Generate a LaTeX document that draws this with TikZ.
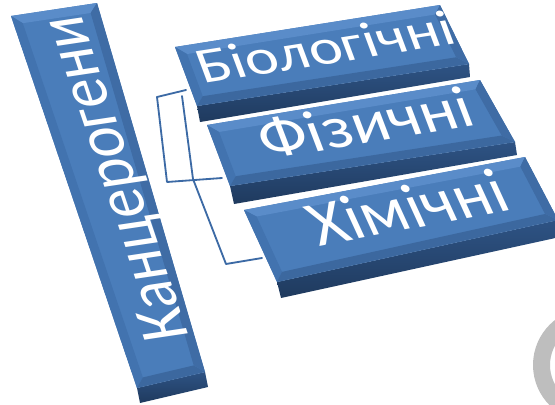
\documentclass[tikz,border=0pt]{standalone}
\usepackage{fontspec}
\setmainfont{Carlito}
\usetikzlibrary{calc}
\definecolor{cgface}{HTML}{4A7DBA}
\definecolor{cgbevtop}{HTML}{5A8CC9}
\definecolor{cgbevleft}{HTML}{4273AF}
\definecolor{cgbevbot}{HTML}{3C689F}
\definecolor{cgbevright}{HTML}{3F6CA5}
\definecolor{cgfronttop}{HTML}{2E5384}
\definecolor{cgfrontbot}{HTML}{1F3A5E}
\definecolor{cglink}{HTML}{3C6AA5}
\definecolor{cgring}{HTML}{BEBEBE}

\begin{document}
\begin{tikzpicture}[x=0.5mm,y=-0.5mm,line join=round,line cap=round,
  lbl/.style={text=white,font=\fontsize{72}{72}\selectfont,inner sep=0pt,transform shape},
  conn/.style={draw=cglink,line width=2.6pt}]
\path[use as bounding box] (0,0) rectangle (555,405);
\fill[white] (0,0) rectangle (555,405);

% corners of the top faces and lower edges of the front faces
\coordinate (root-tl) at (11,16);   \coordinate (root-tr) at (97,3);
\coordinate (root-br) at (205,372); \coordinate (root-bl) at (137,388);
\coordinate (root-fbr) at (208,387); \coordinate (root-fbl) at (140,403);
\coordinate (bio-tl) at (175,47);   \coordinate (bio-tr) at (440,5);
\coordinate (bio-br) at (469,64);   \coordinate (bio-bl) at (197,106);
\coordinate (bio-fbr) at (470,77);  \coordinate (bio-fbl) at (200,122);
\coordinate (phys-tl) at (207,125); \coordinate (phys-tr) at (480,80);
\coordinate (phys-br) at (515,142); \coordinate (phys-bl) at (230,186);
\coordinate (phys-fbr) at (517,155); \coordinate (phys-fbl) at (234,204);
\coordinate (chem-tl) at (244,210); \coordinate (chem-tr) at (525,157);
\coordinate (chem-br) at (558,220); \coordinate (chem-bl) at (277,282);
\coordinate (chem-fbr) at (560,237); \coordinate (chem-fbl) at (281,298);

% connectors (under the boxes)
\coordinate (j1) at (157,97);
\coordinate (j2) at (167,182);
\coordinate (j3) at (182,96);
\coordinate (j4) at (193,179);
\coordinate (j5) at (226,264);
\draw[conn] (j1) -- (186,90);
\draw[conn] (j1) -- (j2) -- (222,178);
\draw[conn] (j3) -- (j4) -- (j5) -- (262,258);

% bevelled boxes
\foreach \b in {root,bio,phys,chem}{
  \shade[top color=cgfronttop,bottom color=cgfrontbot]
    (\b-bl) -- (\b-br) -- (\b-fbr) -- (\b-fbl) -- cycle;
  \coordinate (\b-itl) at ($(\b-tl)!4.5mm!(\b-tr) + (\b-tl)!4.5mm!(\b-bl) - (\b-tl)$);
  \coordinate (\b-itr) at ($(\b-tr)!4.5mm!(\b-tl) + (\b-tr)!4.5mm!(\b-br) - (\b-tr)$);
  \coordinate (\b-ibr) at ($(\b-br)!4.5mm!(\b-bl) + (\b-br)!4.5mm!(\b-tr) - (\b-br)$);
  \coordinate (\b-ibl) at ($(\b-bl)!4.5mm!(\b-br) + (\b-bl)!4.5mm!(\b-tl) - (\b-bl)$);
  \fill[cgface] (\b-tl) -- (\b-tr) -- (\b-br) -- (\b-bl) -- cycle;
  \fill[cgbevtop] (\b-tl) -- (\b-tr) -- (\b-itr) -- (\b-itl) -- cycle;
  \fill[cgbevleft] (\b-tl) -- (\b-itl) -- (\b-ibl) -- (\b-bl) -- cycle;
  \fill[cgbevbot] (\b-bl) -- (\b-ibl) -- (\b-ibr) -- (\b-br) -- cycle;
  \fill[cgbevright] (\b-tr) -- (\b-br) -- (\b-ibr) -- (\b-itr) -- cycle;
}

% labels on the top faces, slanted with the boxes
\coordinate (root-c) at (119,178);
\coordinate (bio-c) at (325,47);
\coordinate (phys-c) at (365,123);
\coordinate (chem-c) at (407,207);
\node[lbl,cm={-0.39,1.155,-1.335,-0.20,(0,0)}] (root-lbl) at (root-c) {Канцерогени};
\node[lbl,cm={1.225,0.193,-0.356,0.956,(0,0)}] (bio-lbl) at (bio-c) {Біологічні};
\node[lbl,cm={1.34,0.221,-0.43,1.13,(0,0)}] (phys-lbl) at (phys-c) {Фізичні};
\node[lbl,cm={1.33,0.252,-0.55,1.2,(0,0)}] (chem-lbl) at (chem-c) {Хімічні};

% grey ring cut by the right edge
\begin{scope}
  \clip (0,0) rectangle (555,405);
  \fill[cgring,even odd rule] (590,365) circle[radius=57] (590,365) circle[radius=40];
\end{scope}
\end{tikzpicture}
\end{document}
